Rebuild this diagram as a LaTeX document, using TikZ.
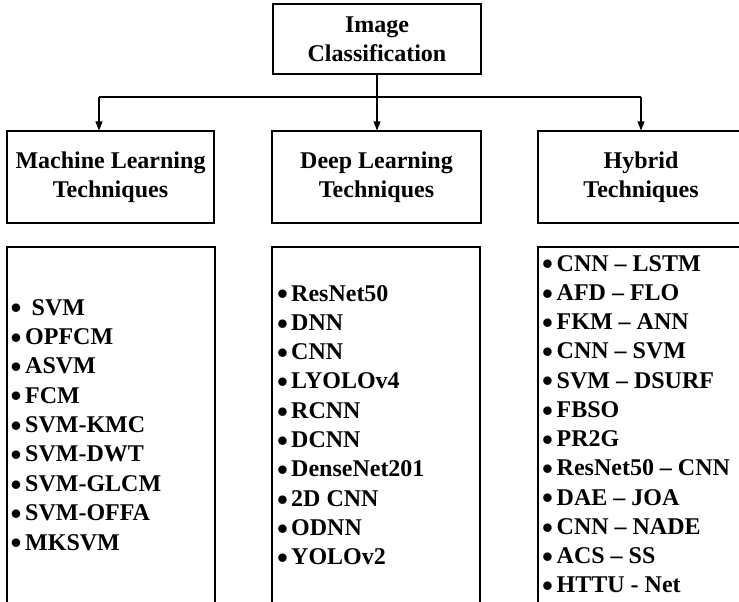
\documentclass[tikz,border=0pt]{standalone}
\usepackage{fontspec}
\setmainfont{Liberation Serif}
\usetikzlibrary{arrows.meta}
\newcommand{\bigbul}{\raisebox{-3.8pt}{\scalebox{1.3}{\textbullet}}}
\begin{document}
\begin{tikzpicture}[x=1pt,y=-1pt,
  box/.style={draw, line width=1.1pt, rectangle, inner sep=0pt, align=center,
    font=\bfseries\fontsize{24}{29}\selectfont},
  itm/.style={anchor=base west, inner sep=0pt, font=\bfseries\fontsize{24}{29}\selectfont},
  arr/.style={line width=1.1pt, -{Triangle[length=9pt,width=7pt]}},
  conn/.style={line width=1.1pt}]
\useasboundingbox (0,0) rectangle (739,602);
\clip (0,0) rectangle (739,602);
% top
\node[box, minimum width=208pt, minimum height=70pt] (title) at (377,39) {Image\\Classification};
% headers
\node[box, minimum width=207pt, minimum height=92pt] (ml) at (110.5,177) {Machine Learning\\Techniques};
\node[box, minimum width=209pt, minimum height=92pt] (dl) at (376.5,177) {Deep Learning\\Techniques};
\node[box, minimum width=206pt, minimum height=92pt] (hy) at (641,177) {Hybrid\\Techniques};
% list boxes (open past the bottom edge)
\node[box, minimum width=208pt, minimum height=370pt] (mlL) at (111,432) {};
\node[box, minimum width=208pt, minimum height=370pt] (dlL) at (376,432) {};
\node[box, minimum width=206pt, minimum height=370pt] (hyL) at (641,432) {};
% connectors
\coordinate (jL) at (99,97);
\coordinate (jR) at (641,97);
\draw[conn] (jL) -- (jR);
\draw[arr] (title.south) -- (title.south |- dl.north);
\draw[arr] (jL) -- (jL |- ml.north);
\draw[arr] (jR) -- (jR |- hy.north);
% machine learning items
\node[itm] (ml0) at (10.5,315) {\makebox[21pt][l]{\bigbul}SVM};
\foreach \t [count=\i] in {OPFCM,ASVM,FCM,SVM-KMC,SVM-DWT,SVM-GLCM,SVM-OFFA,MKSVM}
  \node[itm] (ml\i) at (10.5,{315+29.375*\i}) {\makebox[14.5pt][l]{\bigbul}\t};
% deep learning items
\foreach \t [count=\i from 0] in {ResNet50,DNN,CNN,LYOLOv4,RCNN,DCNN,DenseNet201,2D CNN,ODNN,YOLOv2}
  \node[itm] (dl\i) at (277,{301+29.33*\i}) {\makebox[14pt][l]{\bigbul}\t};
% hybrid items
\foreach \t [count=\i from 0] in {CNN \textendash{} LSTM,AFD \textendash{} FLO,FKM \textendash{} ANN,CNN \textendash{} SVM,SVM \textendash{} DSURF,FBSO,PR2G,ResNet50 \textendash{} CNN,DAE \textendash{} JOA,CNN \textendash{} NADE,ACS \textendash{} SS,HTTU - Net}
  \node[itm] (hy\i) at (542,{271+29.27*\i}) {\makebox[14.5pt][l]{\bigbul}\t};
\end{tikzpicture}
\end{document}
